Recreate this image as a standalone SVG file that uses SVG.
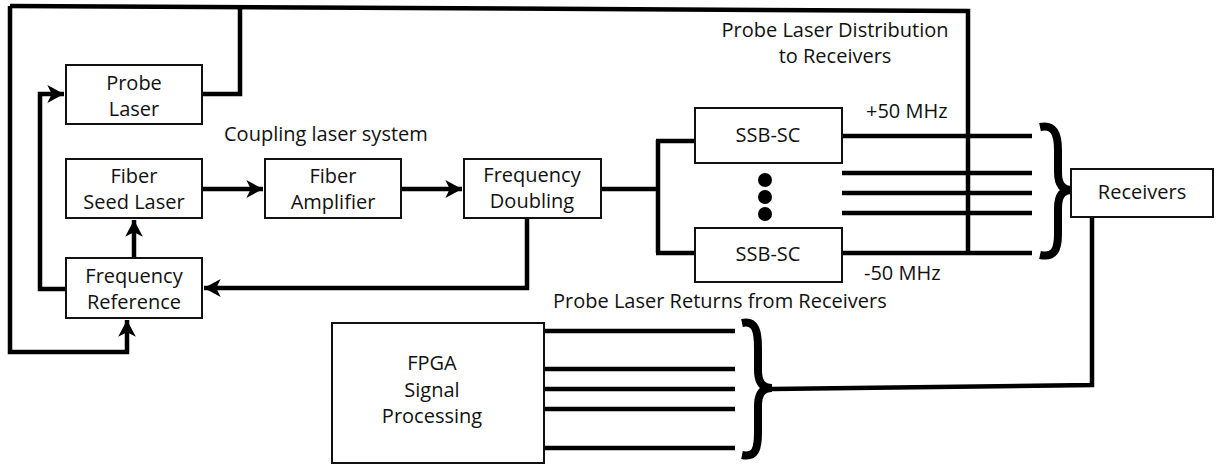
<svg xmlns="http://www.w3.org/2000/svg" width="1216" height="464" viewBox="0 0 1216 464">
<style>
text{font-family:"Open Sans","Noto Sans",sans-serif;font-size:20px;fill:#111}
.c{text-anchor:middle}
.box{fill:#fff;stroke:#111;stroke-width:2}
.ln{fill:none;stroke:#000;stroke-width:4.5;stroke-linejoin:miter}
.br{fill:none;stroke:#000;stroke-width:8;stroke-linecap:butt}
</style>
<defs>
<marker id="ah" markerUnits="userSpaceOnUse" markerWidth="20" markerHeight="20" viewBox="-16 -9 18 18" refX="0" refY="0" orient="auto">
<path d="M0,0 L-15,-8 L-11,0 L-15,8 Z" fill="#000"/>
</marker>
</defs>
<g id="connectors">
<path class="ln" d="M202,94 H240 V6"/>
<path class="ln" d="M10,6 L968,11 V253"/>
<path class="ln" d="M10,6 L10,352 H127 V320" marker-end="url(#ah)"/>
<path class="ln" d="M66,289 H40 V94 H64" marker-end="url(#ah)"/>
<path class="ln" d="M202,189 H263" marker-end="url(#ah)"/>
<path class="ln" d="M401,189 H462" marker-end="url(#ah)"/>
<path class="ln" d="M134,258 V220" marker-end="url(#ah)"/>
<path class="ln" d="M527,218 V288 H204" marker-end="url(#ah)"/>
<path class="ln" d="M601,189 H658 M658,140 V253 M656,141 H695 M656,253 H695"/>
<path class="ln" d="M842,136 H1032 M842,173 H1032 M842,193 H1032 M842,213 H1032 M842,253 H1032"/>
<path class="ln" d="M544,331 H735 M544,369 H735 M544,389 H735 M544,409 H735 M544,448 H735"/>
<path class="ln" d="M1092,217 V385 L772,389"/>
<path class="br" d="M1040,127 C1054,124 1058,134 1058,150 L1058,172 C1058,184 1062,190 1072,190 C1062,190 1058,196 1058,208 L1058,234 C1058,250 1054,258 1040,255"/>
<path class="br" d="M742,323 C756,320 758,332 758,348 L758,370 C758,382 762,388 772,388 C762,388 758,394 758,406 L758,432 C758,448 756,458 742,455"/>
<circle cx="765" cy="180" r="7" fill="#000"/>
<circle cx="765" cy="197" r="7" fill="#000"/>
<circle cx="765" cy="214" r="7" fill="#000"/>
</g>
<g id="probe-laser"><rect class="box" x="66" y="65" width="136" height="59"/><text class="c" x="134" y="90">Probe</text><text class="c" x="134" y="116">Laser</text></g>
<g id="fiber-seed-laser"><rect class="box" x="66" y="159" width="136" height="59"/><text class="c" x="134" y="183">Fiber</text><text class="c" x="134" y="209">Seed Laser</text></g>
<g id="fiber-amplifier"><rect class="box" x="265" y="159" width="136" height="59"/><text class="c" x="333" y="183">Fiber</text><text class="c" x="333" y="209">Amplifier</text></g>
<g id="frequency-doubling"><rect class="box" x="464" y="159" width="137" height="59"/><text class="c" x="532" y="182">Frequency</text><text class="c" x="532" y="208">Doubling</text></g>
<g id="frequency-reference"><rect class="box" x="66" y="258" width="136" height="60"/><text class="c" x="134" y="283">Frequency</text><text class="c" x="134" y="309">Reference</text></g>
<g id="ssb-sc-top"><rect class="box" x="695" y="108" width="147" height="55"/><text class="c" x="768" y="142">SSB-SC</text></g>
<g id="ssb-sc-bottom"><rect class="box" x="695" y="228" width="147" height="54"/><text class="c" x="768" y="261">SSB-SC</text></g>
<g id="receivers"><rect class="box" x="1071" y="169" width="142" height="48"/><text class="c" x="1142" y="199">Receivers</text></g>
<g id="fpga"><rect class="box" x="332" y="323" width="212" height="140"/><text class="c" x="432" y="370">FPGA</text><text class="c" x="432" y="397">Signal</text><text class="c" x="432" y="423">Processing</text></g>
<g id="labels">
<text x="224" y="141">Coupling laser system</text>
<text class="c" x="835" y="37">Probe Laser Distribution</text>
<text class="c" x="835" y="63">to Receivers</text>
<text x="866" y="118">+50 MHz</text>
<text x="864" y="280">-50 MHz</text>
<text x="553" y="308">Probe Laser Returns from Receivers</text>
</g>
</svg>
